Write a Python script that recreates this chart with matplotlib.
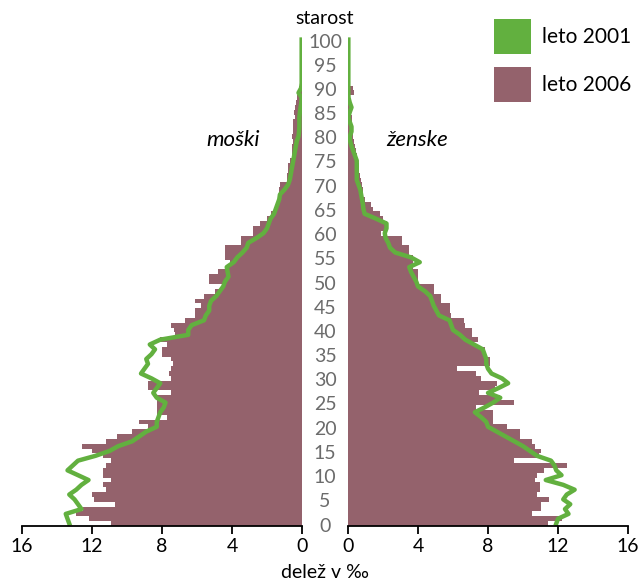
import numpy as np
import matplotlib
matplotlib.use("Agg")
import matplotlib.pyplot as plt
from matplotlib.patches import Patch
from matplotlib.transforms import blended_transform_factory

plt.rcParams['font.family'] = ['Lato', 'DejaVu Sans']

# starost 0..100 let
ages = np.arange(101)

# moški, leto 2006 (delež v ‰)
men_2006 = [
    10.9, 12.2, 12.9, 12.5, 10.7, 11.9, 12.0, 11.2, 11.4, 10.9,
    11.4, 11.4, 11.2, 10.9, 11.4, 12.0, 12.6, 11.2, 10.6, 9.7,
    8.8, 9.3, 7.7, 8.3, 8.3, 8.3, 8.3, 7.5, 8.8, 8.8,
    7.5, 7.6, 7.5, 7.4, 7.5, 8.0, 8.0, 7.7, 8.1, 7.26,
    7.3, 7.5, 6.7, 6.1, 6.1, 5.8, 6.1, 5.6, 5.0, 4.6,
    5.3, 5.3, 4.8, 4.3, 4.1, 4.4, 4.4, 4.4, 3.5, 3.5,
    2.8, 2.8, 2.4, 2.0, 1.8, 1.5, 1.5, 1.4, 1.3, 1.3,
    1.26, 0.86, 0.86, 0.8, 0.8, 0.7, 0.6, 0.6, 0.55, 0.5,
    0.55, 0.5, 0.5, 0.5, 0.42, 0.45, 0.4, 0.35, 0.3, 0.2,
    0.15, 0.1, 0.08, 0.05, 0.04, 0.03, 0.02, 0.02, 0.01, 0.01,
    0.01,
]

# ženske, leto 2006
women_2006 = [
    11.4, 12.2, 10.5, 11.0, 11.0, 11.5, 10.8, 10.95, 10.95, 10.7,
    10.8, 11.2, 12.5, 9.5, 10.9, 11.0, 10.7, 10.5, 9.8, 9.8,
    9.1, 8.3, 8.3, 8.3, 7.3, 9.5, 8.7, 7.5, 8.4, 8.5,
    7.6, 7.3, 6.2, 8.1, 8.1, 7.8, 7.8, 7.2, 7.4, 7.1,
    7.1, 6.7, 6.6, 5.9, 5.8, 5.8, 5.3, 5.3, 4.9, 4.9,
    4.0, 4.0, 4.0, 3.7, 3.7, 3.7, 3.5, 3.5, 3.07, 3.07,
    1.9, 2.2, 2.2, 2.0, 1.8, 1.43, 1.3, 0.97, 0.84, 0.84,
    0.78, 0.75, 0.7, 0.6, 0.6, 0.55, 0.5, 0.45, 0.4, 0.35,
    0.3, 0.3, 0.25, 0.2, 0.2, 0.15, 0.12, 0.1, 0.1, 0.35,
    0.3, 0.05, 0.03, 0.03, 0.02, 0.02, 0.01, 0.01, 0.01, 0.01,
    0.01,
]

# moški, leto 2001
men_2001 = [
    13.3, 13.4, 13.5, 12.6, 12.8, 13.0, 13.3, 12.9, 12.6, 12.2,
    12.8, 13.4, 13.1, 12.8, 11.8, 11.0, 10.5, 9.7, 9.3, 8.9,
    8.3, 8.3, 8.2, 8.1, 7.9, 7.8, 8.3, 8.5, 8.3, 8.1,
    8.6, 9.2, 9.0, 8.8, 8.9, 8.6, 8.4, 8.7, 8.1, 6.5,
    6.5, 6.3, 5.6, 5.5, 5.3, 5.3, 5.2, 4.9, 4.7, 4.5,
    4.4, 4.2, 4.25, 4.3, 3.9, 3.7, 3.4, 3.16, 3.07, 2.6,
    2.2, 2.0, 1.9, 1.8, 1.6, 1.5, 1.4, 1.3, 1.26, 1.0,
    0.8, 0.7, 0.65, 0.6, 0.55, 0.5, 0.45, 0.4, 0.35, 0.3,
    0.2, 0.17, 0.15, 0.15, 0.15, 0.12, 0.08, 0.04, 0.02, 0.2,
    0.05, 0.02, 0.02, 0.02, 0.02, 0.02, 0.02, 0.02, 0.02, 0.02,
    0.02,
]

# ženske, leto 2001
women_2001 = [
    11.9, 12.0, 12.6, 12.4, 12.7, 12.3, 12.5, 12.95, 12.3, 11.3,
    12.2, 11.9, 11.8, 11.6, 10.8, 10.4, 10.0, 9.5, 9.0, 8.5,
    8.0, 7.9, 7.6, 7.25, 7.8, 8.3, 8.7, 8.0, 8.6, 9.15,
    8.8, 8.2, 8.0, 7.9, 7.9, 7.8, 7.7, 7.2, 6.7, 6.4,
    6.0, 5.9, 5.8, 5.2, 5.05, 4.9, 4.8, 4.7, 4.4, 4.0,
    3.9, 3.75, 3.6, 3.5, 4.1, 3.6, 2.7, 2.4, 2.3, 2.15,
    2.1, 2.2, 2.2, 1.6, 0.95, 0.88, 0.85, 0.8, 0.75, 0.7,
    0.6, 0.5, 0.5, 0.5, 0.5, 0.5, 0.4, 0.3, 0.2, 0.12,
    0.1, 0.2, 0.2, 0.1, 0.02, 0.1, 0.2, 0.1, 0.03, 0.02,
    0.02, 0.02, 0.02, 0.02, 0.02, 0.02, 0.02, 0.02, 0.02, 0.02,
    0.02,
]

age_ticks = list(range(0, 101, 5))
x_ticks = [0, 4, 8, 12, 16]
series_labels = ['leto 2001', 'leto 2006']

bar_color = '#94626c'
line_color = '#62b03f'
label_gray = '#6b6b6b'

fig = plt.figure(figsize=(6.38, 5.81), dpi=100)
W, H = 638.0, 581.0
ax_bottom = (H - 526) / H
ax_height = 4.84 * 101.5 / H
ax_l = fig.add_axes([22 / W, ax_bottom, 280 / W, ax_height])
ax_r = fig.add_axes([348 / W, ax_bottom, 280 / W, ax_height])

ax_l.barh(ages, men_2006, height=1.0, align='edge', color=bar_color, linewidth=0)
ax_r.barh(ages, women_2006, height=1.0, align='edge', color=bar_color, linewidth=0)
ax_l.plot(men_2001, ages + 0.5, color=line_color, lw=3.2, solid_joinstyle='round')
ax_r.plot(women_2001, ages + 0.5, color=line_color, lw=3.2, solid_joinstyle='round')

ax_l.set_xlim(16, 0)
ax_r.set_xlim(0, 16)
for ax in (ax_l, ax_r):
    ax.set_ylim(0, 101.5)
    for s in ('top', 'left', 'right'):
        ax.spines[s].set_visible(False)
    ax.spines['bottom'].set_linewidth(1.3)
    ax.set_xticks(x_ticks)
    ax.set_yticks([])
    ax.tick_params(axis='x', direction='out', length=6, width=1.3,
                   labelsize=14, pad=3)
    ax.patch.set_alpha(0)

# starostne oznake na sredini
trans = blended_transform_factory(fig.transFigure, ax_l.transData)
for a in age_ticks:
    ax_l.text(325 / W, a, str(a), transform=trans, ha='center', va='center',
              fontsize=14, color=label_gray, clip_on=False)

fig.text(325 / W, 1 - 18 / H, 'starost', ha='center', va='center', fontsize=14)
fig.text(325 / W, 1 - 573 / H, 'delež v ‰', ha='center', va='center', fontsize=14)
fig.text(233 / W, 1 - 140 / H, 'moški', ha='center', va='center',
         fontsize=16, style='italic')
fig.text(417 / W, 1 - 140 / H, 'ženske', ha='center', va='center',
         fontsize=16, style='italic')

handles = [Patch(facecolor=line_color, edgecolor='none'),
           Patch(facecolor=bar_color, edgecolor='none')]
fig.legend(handles, series_labels, loc='upper left',
           bbox_to_anchor=(479 / W, 1 - 4 / H), frameon=False,
           fontsize=15, handlelength=1.8, handleheight=2.25,
           handletextpad=0.5, labelspacing=0.6, borderpad=0.2)

fig.savefig('out.png', dpi=100)
